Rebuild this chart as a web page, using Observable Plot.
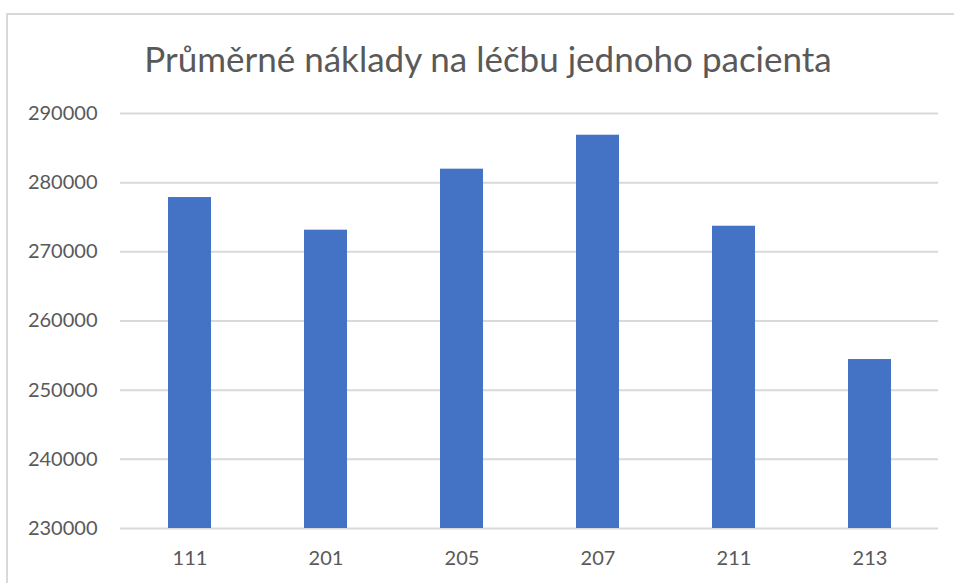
<!DOCTYPE html>
<html>
<head>
<meta charset="utf-8">
<script src="https://cdn.jsdelivr.net/npm/d3@7"></script>
<script src="https://cdn.jsdelivr.net/npm/@observablehq/plot@0.6"></script>
<style>
  html, body { margin: 0; padding: 0; background: #fff; overflow: hidden; }
  #wrap { position: relative; width: 954px; height: 583px; font-family: Lato, sans-serif; }
  #frame { position: absolute; left: 6px; top: 13px; width: 960px; height: 600px; border: 2px solid #d9d9d9; box-sizing: border-box; }
  #title { position: absolute; left: 0; width: 976px; top: 37px; text-align: center; font-size: 35px; line-height: 42px; color: #595959; margin: 0; font-weight: normal; }
  #chart { position: absolute; left: 0; top: 0; }
</style>
</head>
<body>
<div id="wrap">
  <div id="frame"></div>
  <h2 id="title">Průměrné náklady na léčbu jednoho pacienta</h2>
  <div id="chart"></div>
</div>
<script>
const categories = ["111", "201", "205", "207", "211", "213"];
const values = [277850, 273130, 281950, 286860, 273700, 254430];
const yTicks = [230000, 240000, 250000, 260000, 270000, 280000, 290000];

const data = categories.map((c, i) => ({category: c, value: values[i]}));

const chart = Plot.plot({
  width: 954,
  height: 583,
  marginLeft: 120,
  marginRight: 16,
  marginTop: 113,
  marginBottom: 55,
  style: {fontFamily: "Lato, sans-serif", fontSize: "20px", color: "#595959", background: "transparent"},
  x: {domain: categories, paddingInner: 0.685, paddingOuter: 0.3425, label: null, tickSize: 0, tickPadding: 22},
  y: {domain: [230000, 290000], ticks: yTicks, tickFormat: d => String(d), label: null, tickSize: 0, tickPadding: 23},
  marks: [
    Plot.gridY(yTicks, {stroke: "#d9d9d9", strokeOpacity: 1, strokeWidth: 2}),
    Plot.barY(data, {x: "category", y1: 230000, y2: "value", fill: "#4472c4"})
  ]
});
document.getElementById("chart").appendChild(chart);
</script>
</body>
</html>
